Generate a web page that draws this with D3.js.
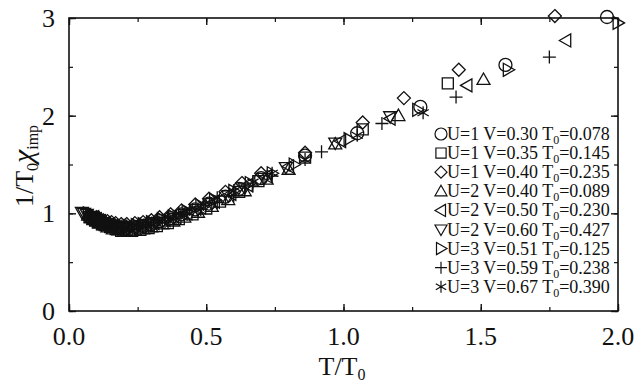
<!DOCTYPE html>
<html>
<head>
<meta charset="utf-8">
<script src="https://cdn.jsdelivr.net/npm/d3@7/dist/d3.min.js"></script>
<style>
  html, body { margin: 0; padding: 0; background: #fff; }
  svg { display: block; }
  svg text { font-family: "Liberation Serif", "Times New Roman", "DejaVu Serif", serif; }
</style>
</head>
<body>
<svg id="chart" width="639" height="385"></svg>
<script>
// Scaled inverse impurity susceptibility 1/(T0 chi_imp) against T/T0
const xTicks = [0.0, 0.5, 1.0, 1.5, 2.0];
const yTicks = [0, 1, 2, 3];
const xTickLabels = ["0.0", "0.5", "1.0", "1.5", "2.0"];
const yTickLabels = ["0", "1", "2", "3"];

const seriesU = [1, 1, 1, 2, 2, 2, 3, 3, 3];
const seriesV = ["0.30", "0.35", "0.40", "0.40", "0.50", "0.60", "0.51", "0.59", "0.67"];
const seriesT0 = ["0.078", "0.145", "0.235", "0.089", "0.230", "0.427", "0.125", "0.238", "0.390"];
const seriesMarker = ["circle", "square", "diamond", "triUp", "triLeft", "triDown", "triRight", "plus", "star"];

// [T/T0, 1/(T0 chi_imp)] per parameter set
const sCircle = [[1.96,3.01],[1.59,2.52],[1.28,2.09],[1.05,1.82],[0.86,1.59],[0.70,1.36],[0.62,1.25],[0.57,1.17],[0.51,1.10],[0.46,1.04],[0.41,0.99],[0.37,0.95],[0.33,0.92],[0.30,0.89],[0.27,0.87],[0.24,0.86],[0.21,0.85],[0.19,0.85],[0.17,0.86],[0.155,0.87],[0.14,0.88],[0.125,0.90],[0.11,0.92],[0.10,0.93],[0.09,0.95],[0.08,0.96]];
const sSquare = [[1.38,2.33],[1.07,1.86],[0.86,1.57],[0.69,1.33],[0.62,1.22],[0.55,1.12],[0.50,1.05],[0.45,0.99],[0.40,0.94],[0.36,0.90],[0.32,0.87],[0.29,0.85],[0.26,0.83],[0.23,0.82],[0.21,0.82],[0.19,0.82],[0.17,0.84],[0.15,0.86],[0.13,0.88],[0.12,0.89],[0.105,0.91],[0.095,0.93],[0.085,0.94],[0.075,0.96]];
const sDiamond = [[1.77,3.02],[1.42,2.47],[1.22,2.18],[1.07,1.93],[0.86,1.62],[0.70,1.41],[0.63,1.31],[0.57,1.22],[0.51,1.15],[0.46,1.09],[0.41,1.03],[0.37,0.99],[0.33,0.96],[0.30,0.93],[0.27,0.91],[0.24,0.90],[0.21,0.89],[0.19,0.89],[0.17,0.90],[0.155,0.91],[0.14,0.92],[0.125,0.93],[0.11,0.95],[0.10,0.96]];
const sTriUp = [[1.51,2.37],[1.20,2.00],[0.97,1.71],[0.80,1.45],[0.72,1.35],[0.64,1.23],[0.58,1.14],[0.52,1.07],[0.47,1.01],[0.42,0.96],[0.38,0.92],[0.34,0.89],[0.30,0.86],[0.27,0.84],[0.24,0.83],[0.22,0.82],[0.20,0.82],[0.18,0.83],[0.16,0.84],[0.14,0.86],[0.125,0.88],[0.11,0.90],[0.10,0.92],[0.09,0.94],[0.08,0.96],[0.07,0.98]];
const sTriLeft = [[1.81,2.77],[1.45,2.31],[1.17,1.97],[0.99,1.74],[0.80,1.48],[0.72,1.38],[0.65,1.29],[0.59,1.20],[0.53,1.12],[0.48,1.06],[0.43,1.00],[0.39,0.96],[0.35,0.93],[0.31,0.90],[0.28,0.88],[0.25,0.87],[0.23,0.86],[0.20,0.85],[0.18,0.86],[0.16,0.87],[0.145,0.88],[0.13,0.90],[0.115,0.92],[0.10,0.94],[0.09,0.96]];
const sTriDown = [[1.17,1.99],[0.97,1.72],[0.79,1.47],[0.71,1.36],[0.64,1.26],[0.58,1.18],[0.52,1.10],[0.47,1.04],[0.42,0.99],[0.38,0.95],[0.34,0.91],[0.30,0.89],[0.27,0.87],[0.24,0.86],[0.22,0.85],[0.19,0.85],[0.17,0.86],[0.155,0.87],[0.14,0.88],[0.125,0.90],[0.11,0.92],[0.095,0.94],[0.085,0.96],[0.075,0.97],[0.065,0.99],[0.055,1.00],[0.047,1.01]];
const sTriRight = [[2.00,2.95],[1.60,2.47],[1.27,2.06],[1.02,1.76],[0.82,1.50],[0.74,1.41],[0.66,1.31],[0.60,1.23],[0.53,1.14],[0.48,1.08],[0.43,1.02],[0.38,0.97],[0.34,0.94],[0.30,0.91],[0.27,0.89],[0.245,0.88],[0.22,0.87],[0.195,0.87],[0.175,0.88],[0.155,0.89],[0.14,0.90],[0.125,0.92],[0.11,0.94],[0.098,0.96],[0.088,0.97],[0.078,0.99],[0.07,1.00]];
const sPlus = [[1.75,2.60],[1.41,2.19],[1.14,1.92],[0.92,1.63],[0.74,1.38],[0.67,1.28],[0.60,1.18],[0.54,1.11],[0.48,1.04],[0.43,0.99],[0.39,0.95],[0.35,0.91],[0.31,0.88],[0.28,0.86],[0.25,0.84],[0.22,0.83],[0.20,0.83],[0.18,0.84],[0.16,0.85],[0.145,0.87],[0.13,0.89],[0.115,0.91],[0.105,0.92],[0.095,0.94],[0.085,0.95]];
const sStar = [[1.29,2.03],[1.05,1.80],[0.86,1.55],[0.74,1.41],[0.67,1.32],[0.60,1.23],[0.54,1.16],[0.49,1.09],[0.44,1.04],[0.40,1.00],[0.36,0.96],[0.32,0.93],[0.29,0.91],[0.26,0.89],[0.235,0.88],[0.21,0.87],[0.19,0.87],[0.17,0.88],[0.15,0.89],[0.135,0.91],[0.12,0.92],[0.11,0.93],[0.095,0.95],[0.085,0.97]];

const seriesData = [sCircle, sSquare, sDiamond, sTriUp, sTriLeft, sTriDown, sTriRight, sPlus, sStar];

const margin = { left: 69, right: 21, top: 18, bottom: 74 };
const W = 639, H = 385;
const svg = d3.select("#chart");

const x = d3.scaleLinear().domain([0, 2]).range([margin.left, W - margin.right]);
const y = d3.scaleLinear().domain([0, 3]).range([H - margin.bottom, margin.top]);

// marker path builders, r = half size
function markerPath(kind, r) {
  const p = d3.path();
  const h = r;
  switch (kind) {
    case "circle":
      p.moveTo(r, 0); p.arc(0, 0, r, 0, 2 * Math.PI); break;
    case "square":
      p.rect(-r * 0.85, -r * 0.85, r * 1.7, r * 1.7); break;
    case "diamond":
      p.moveTo(0, -r); p.lineTo(r, 0); p.lineTo(0, r); p.lineTo(-r, 0); p.closePath(); break;
    case "triUp":
      p.moveTo(0, -h); p.lineTo(h, h * 0.75); p.lineTo(-h, h * 0.75); p.closePath(); break;
    case "triDown":
      p.moveTo(0, h); p.lineTo(h, -h * 0.75); p.lineTo(-h, -h * 0.75); p.closePath(); break;
    case "triLeft":
      p.moveTo(-h, 0); p.lineTo(h * 0.75, -h); p.lineTo(h * 0.75, h); p.closePath(); break;
    case "triRight":
      p.moveTo(h, 0); p.lineTo(-h * 0.75, -h); p.lineTo(-h * 0.75, h); p.closePath(); break;
    case "plus":
      p.moveTo(-r, 0); p.lineTo(r, 0); p.moveTo(0, -r); p.lineTo(0, r); break;
    case "star":
      for (let k = 0; k < 3; k++) {
        const a = Math.PI / 2 + k * Math.PI / 3;
        p.moveTo(r * Math.cos(a), r * Math.sin(a));
        p.lineTo(-r * Math.cos(a), -r * Math.sin(a));
      }
      break;
  }
  return p.toString();
}

// frame
svg.append("rect")
  .attr("x", x(0)).attr("y", y(3))
  .attr("width", x(2) - x(0)).attr("height", y(0) - y(3))
  .attr("fill", "none").attr("stroke", "#111").attr("stroke-width", 1.6);

// inward ticks on all four sides: minor then major
function tickSet(values, len, width) {
  [[d3.axisBottom(x), `translate(0,${y(0)})`, values.x],
   [d3.axisTop(x), `translate(0,${y(3)})`, values.x],
   [d3.axisLeft(y), `translate(${x(0)},0)`, values.y],
   [d3.axisRight(y), `translate(${x(2)},0)`, values.y]].forEach(([ax, tr, vals]) => {
    const g = svg.append("g").attr("transform", tr)
      .call(ax.tickValues(vals).tickSize(-len).tickFormat(""));
    g.select(".domain").remove();
    g.selectAll("line").attr("stroke", "#111").attr("stroke-width", width);
  });
}
tickSet({ x: d3.range(0, 2.0001, 0.25), y: d3.range(0, 3.0001, 0.5) }, 4, 1.2);
tickSet({ x: xTicks, y: yTicks }, 7, 1.4);

// tick labels
svg.append("g").selectAll("text").data(xTicks).join("text")
  .attr("x", d => x(d)).attr("y", y(0) + 34)
  .attr("text-anchor", "middle").attr("font-size", 26).attr("fill", "#111")
  .text((d, i) => xTickLabels[i]);
svg.append("g").selectAll("text").data(yTicks).join("text")
  .attr("x", x(0) - 14).attr("y", d => y(d) + 9)
  .attr("text-anchor", "end").attr("font-size", 26).attr("fill", "#111")
  .text((d, i) => yTickLabels[i]);

// axis titles
const xt = svg.append("text").attr("x", 342).attr("y", 375)
  .attr("text-anchor", "middle").attr("font-size", 26).attr("fill", "#111");
xt.append("tspan").text("T/T");
xt.append("tspan").attr("font-size", 16).attr("dy", 5).text("0");

const yt = svg.append("text")
  .attr("transform", "translate(33,166) rotate(-90)")
  .attr("text-anchor", "middle").attr("font-size", 26).attr("fill", "#111");
yt.append("tspan").text("1/T");
yt.append("tspan").attr("font-size", 16).attr("dy", 5).text("0");
yt.append("tspan").attr("dy", -5).attr("font-style", "italic").attr("font-size", 30).text("χ");
yt.append("tspan").attr("font-size", 16).attr("dy", 5).text("imp");

// data markers
const marks = svg.append("g");
seriesData.forEach((pts, i) => {
  marks.append("g").selectAll("path").data(pts).join("path")
    .attr("transform", d => `translate(${x(d[0])},${y(d[1])})`)
    .attr("d", markerPath(seriesMarker[i], 6.5))
    .attr("fill", "none").attr("stroke", "#111").attr("stroke-width", 1.3);
});

// legend
const legend = svg.append("g");
seriesU.forEach((u, i) => {
  const ly = 134 + i * 19.1;
  legend.append("path")
    .attr("transform", `translate(441,${ly})`)
    .attr("d", markerPath(seriesMarker[i], 6))
    .attr("fill", "none").attr("stroke", "#111").attr("stroke-width", 1.2);
  const t = legend.append("text").attr("x", 447).attr("y", ly + 6)
    .attr("font-size", 18).attr("fill", "#111");
  t.append("tspan").text(`U=${u} V=${seriesV[i]} T`);
  t.append("tspan").attr("font-size", 12).attr("dy", 4).text("0");
  t.append("tspan").attr("dy", -4).text(`=${seriesT0[i]}`);
});
</script>
</body>
</html>
